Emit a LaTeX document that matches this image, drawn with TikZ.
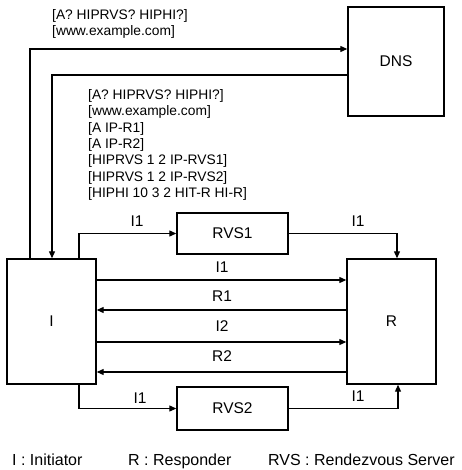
\documentclass[tikz,border=0pt]{standalone}
\usepackage{fontspec}
\setmainfont{Liberation Sans}
\usetikzlibrary{arrows.meta}
\begin{document}
\begin{tikzpicture}[x=1pt,y=-1pt,
  box/.style={draw,line width=1.4pt,inner sep=0pt,font=\fontsize{15.5}{18}\selectfont},
  arr/.style={line width=1.2pt,-{Triangle[length=7pt,width=6pt]}},
  lbl/.style={inner sep=0pt,font=\fontsize{15.5}{18}\selectfont},
  msg/.style={inner sep=0pt,align=left,anchor=north west,font=\fontsize{13.8}{16.3}\selectfont},
  leg/.style={inner sep=0pt,anchor=base west,font=\fontsize{16}{19}\selectfont}]
\useasboundingbox[fill=white] (0,0) rectangle (461,470);
% boxes
\node[box,minimum width=89pt,minimum height=125pt] (I) at (51.5,321.5) {I};
\node[box,minimum width=89pt,minimum height=125pt] (R) at (391.5,321.5) {R};
\node[box,minimum width=96pt,minimum height=109pt] (DNS) at (396,61.5) {DNS};
\node[box,minimum width=111pt,minimum height=41pt] (RVS1) at (232.5,233.5) {RVS1};
\node[box,minimum width=111pt,minimum height=43pt] (RVS2) at (232.5,408.5) {RVS2};
% DNS exchange
\draw[arr] (I.north -| 30,0) |- (DNS.west |- 0,49);
\draw[arr] (DNS.west |- 0,75) -| (I.north -| 52,0);
\node[msg] (q) at (52,9) {[A? HIPRVS? HIPHI?]\\{}[www.example.com]};
\node[msg] (a) at (88,89.5) {[A? HIPRVS? HIPHI?]\\{}[www.example.com]\\{}[A IP-R1]\\{}[A IP-R2]\\{}[HIPRVS 1 2 IP-RVS1]\\{}[HIPRVS 1 2 IP-RVS2]\\{}[HIPHI 10 3 2 HIT-R HI-R]};
% via RVS1
\draw[arr] (I.north -| 79,0) |- (RVS1.west);
\draw[arr] (RVS1.east) -| (R.north -| 397,0);
\node[lbl] (l1) at (137,221) {I1};
\node[lbl] (l2) at (358,221) {I1};
% direct
\draw[arr] (I.east |- 0,280) -- (R.west |- 0,280);
\draw[arr] (R.west |- 0,310) -- (I.east |- 0,310);
\draw[arr] (I.east |- 0,342) -- (R.west |- 0,342);
\draw[arr] (R.west |- 0,372) -- (I.east |- 0,372);
\node[lbl] (l3) at (222,267) {I1};
\node[lbl] (l4) at (222,296) {R1};
\node[lbl] (l5) at (222,326) {I2};
\node[lbl] (l6) at (222,356) {R2};
% via RVS2
\draw[arr] (I.south -| 79,0) |- (RVS2.west);
\draw[arr] (RVS2.east) -| (R.south -| 398,0);
\node[lbl] (l7) at (140,398) {I1};
\node[lbl] (l8) at (358,396) {I1};
% legend
\node[leg] (g1) at (12,465) {I : Initiator};
\node[leg] (g2) at (128,465) {R : Responder};
\node[leg] (g3) at (268,465) {RVS : Rendezvous Server};
\end{tikzpicture}
\end{document}
